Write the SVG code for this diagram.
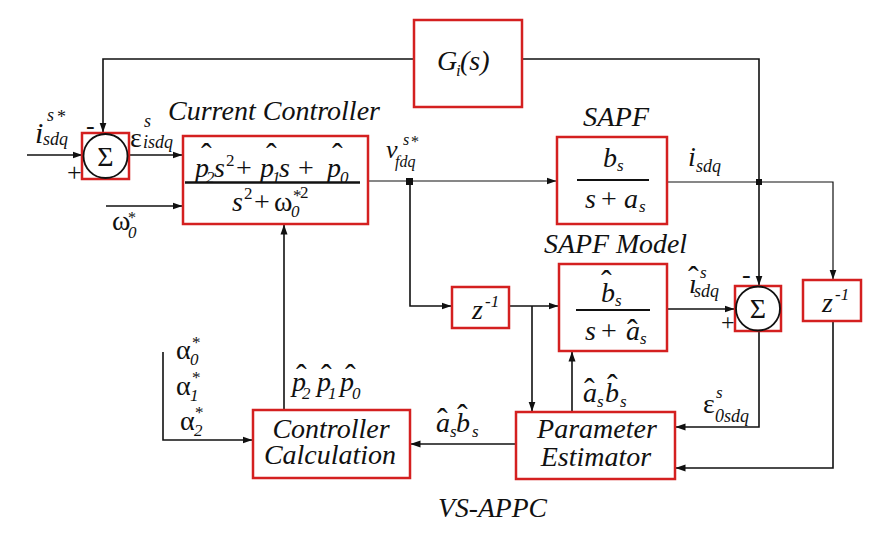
<svg xmlns="http://www.w3.org/2000/svg" width="871" height="534" viewBox="0 0 871 534">
<defs>
<marker id="ah" markerWidth="10" markerHeight="8" refX="9.5" refY="4" orient="auto" markerUnits="userSpaceOnUse"><path d="M0,0.5 L10,4 L0,7.5 z" fill="#111"/></marker>
</defs>
<rect width="871" height="534" fill="#fff"/>

<g id="connectors" fill="none" stroke="#111" stroke-width="1.6">
<path d="M759,182 V59 H522"/>
<path d="M414,59 H103 V132" marker-end="url(#ah)"/>
<path d="M759,182 V285" marker-end="url(#ah)"/>
<path d="M27,155 H82" marker-end="url(#ah)"/>
<path d="M129,155 H182" marker-end="url(#ah)"/>
<path d="M106,206 H182" marker-end="url(#ah)"/>
<path stroke-width="1.2" d="M368,181 H556" marker-end="url(#ah)"/>
<rect x="406" y="178" width="7" height="7" fill="#111" stroke="none"/>
<path d="M410,181 V306 H451" marker-end="url(#ah)"/>
<path d="M509,306 H558" marker-end="url(#ah)"/>
<path d="M532,306 V411" marker-end="url(#ah)"/>
<path d="M572,412 V352" marker-end="url(#ah)"/>
<path stroke-width="1.2" d="M667,182 H833 V279" marker-end="url(#ah)"/>
<rect x="756" y="179" width="6" height="6" fill="#111" stroke="none"/>
<path d="M667,309 H734" marker-end="url(#ah)"/>
<path d="M759,331 V427 H676" marker-end="url(#ah)"/>
<path d="M833,321 V468 H676" marker-end="url(#ah)"/>
<path d="M516,444 H411" marker-end="url(#ah)"/>
<path d="M284,410 V225" marker-end="url(#ah)"/>
<path d="M163,352 V440 H252" marker-end="url(#ah)"/>
</g>

<g id="sum1">
<rect x="82" y="133" width="47" height="46" fill="#fff" stroke="#d42020" stroke-width="2.5"/>
<circle cx="105.5" cy="156" r="22" fill="none" stroke="#111" stroke-width="1.8"/>
<text font-family="Liberation Serif" fill="#111" font-size="28" text-anchor="middle" x="105.5" y="165.5">Σ</text>
<text font-family="Liberation Serif" fill="#111" font-size="26" x="86" y="134">-</text>
<text font-family="Liberation Serif" fill="#111" font-size="26" x="67" y="181">+</text>
</g>

<g id="gi">
<rect x="414" y="20" width="108" height="87" fill="#fff" stroke="#d42020" stroke-width="2.5"/>
<text font-family="Liberation Serif" fill="#111" font-size="28" font-style="italic"><tspan x="437" y="70">G</tspan><tspan font-size="17" x="456" y="76">i</tspan><tspan x="460" y="70">(s)</tspan></text>
</g>

<g id="cc">
<text font-family="Liberation Serif" fill="#111" font-size="27" font-style="italic" x="168" y="120" textLength="212" lengthAdjust="spacingAndGlyphs">Current Controller</text>
<rect x="183" y="136" width="185" height="88" fill="#fff" stroke="#d42020" stroke-width="2.5"/>
<line x1="185" y1="182.5" x2="360" y2="182.5" stroke="#111" stroke-width="2.6"/>
<text font-family="Liberation Serif" fill="#111" font-size="28" font-style="italic"><tspan x="195" y="177">p</tspan><tspan font-style="normal" font-size="32" x="201" y="165">ˆ</tspan><tspan font-size="17" x="206" y="183">2</tspan><tspan x="214" y="177">s</tspan><tspan font-size="17" font-style="normal" x="226" y="166">2</tspan><tspan font-style="normal" x="236" y="177">+</tspan><tspan x="260" y="177">p</tspan><tspan font-style="normal" font-size="32" x="266" y="165">ˆ</tspan><tspan font-size="17" x="272" y="183">1</tspan><tspan x="279" y="177">s</tspan><tspan font-style="normal" x="298" y="177">+</tspan><tspan x="327" y="177">p</tspan><tspan font-style="normal" font-size="32" x="332" y="165">ˆ</tspan><tspan font-size="17" x="340" y="183">0</tspan></text>
<text font-family="Liberation Serif" fill="#111" font-size="28" font-style="italic"><tspan x="232" y="211">s</tspan><tspan font-size="17" font-style="normal" x="244" y="199">2</tspan><tspan font-style="normal" x="254" y="211">+</tspan><tspan font-style="normal" x="274" y="211">ω</tspan><tspan font-size="17" font-style="normal" x="293" y="201">*</tspan><tspan font-size="17" font-style="normal" x="300" y="198">2</tspan><tspan font-size="17" x="291" y="217">0</tspan></text>
</g>

<g id="sapf">
<text font-family="Liberation Serif" fill="#111" font-size="27" font-style="italic" x="583" y="126" textLength="66" lengthAdjust="spacingAndGlyphs">SAPF</text>
<rect x="557" y="137" width="110" height="87" fill="#fff" stroke="#d42020" stroke-width="2.5"/>
<line x1="577" y1="180" x2="649" y2="180" stroke="#111" stroke-width="2"/>
<text font-family="Liberation Serif" fill="#111" font-size="28" font-style="italic"><tspan x="603" y="167">b</tspan><tspan font-size="17" x="617" y="171">s</tspan></text>
<text font-family="Liberation Serif" fill="#111" font-size="28" font-style="italic"><tspan x="585" y="208">s</tspan><tspan font-style="normal" x="601" y="208">+</tspan><tspan x="624" y="208">a</tspan><tspan font-size="17" x="639" y="212">s</tspan></text>
</g>

<g id="sapfm">
<text font-family="Liberation Serif" fill="#111" font-size="27" font-style="italic" x="544" y="253" textLength="143" lengthAdjust="spacingAndGlyphs">SAPF Model</text>
<rect x="559" y="264" width="108" height="87" fill="#fff" stroke="#d42020" stroke-width="2.5"/>
<line x1="576" y1="310" x2="650" y2="310" stroke="#111" stroke-width="2"/>
<text font-family="Liberation Serif" fill="#111" font-size="28" font-style="italic"><tspan x="601" y="302">b</tspan><tspan font-style="normal" font-size="32" x="601" y="292">ˆ</tspan><tspan font-size="17" x="615" y="306">s</tspan></text>
<text font-family="Liberation Serif" fill="#111" font-size="28" font-style="italic"><tspan x="585" y="340">s</tspan><tspan font-style="normal" x="601" y="340">+</tspan><tspan x="626" y="340">a</tspan><tspan font-style="normal" font-size="32" x="627" y="341">ˆ</tspan><tspan font-size="17" x="640" y="344">s</tspan></text>
</g>

<g id="z1">
<rect x="452" y="287" width="57" height="41" fill="#fff" stroke="#d42020" stroke-width="2.5"/>
<text font-family="Liberation Serif" fill="#111" font-size="28" font-style="italic"><tspan x="472" y="319">z</tspan><tspan font-size="17" x="485" y="307">-1</tspan></text>
</g>

<g id="sum2">
<rect x="735" y="286" width="46" height="45" fill="#fff" stroke="#d42020" stroke-width="2.5"/>
<circle cx="758" cy="308.5" r="22" fill="none" stroke="#111" stroke-width="1.8"/>
<text font-family="Liberation Serif" fill="#111" font-size="28" text-anchor="middle" x="758" y="318">Σ</text>
<text font-family="Liberation Serif" fill="#111" font-size="26" x="742" y="283">-</text>
<text font-family="Liberation Serif" fill="#111" font-size="24" x="721" y="330">+</text>
</g>

<g id="z2">
<rect x="803" y="280" width="58" height="41" fill="#fff" stroke="#d42020" stroke-width="2.5"/>
<text font-family="Liberation Serif" fill="#111" font-size="28" font-style="italic"><tspan x="822" y="312">z</tspan><tspan font-size="17" x="835" y="300">-1</tspan></text>
</g>

<g id="ccalc">
<rect x="253" y="410" width="157" height="68" fill="#fff" stroke="#d42020" stroke-width="2.5"/>
<text font-family="Liberation Serif" fill="#111" font-size="28" font-style="italic" text-anchor="middle" x="331" y="438">Controller</text>
<text font-family="Liberation Serif" fill="#111" font-size="28" font-style="italic" text-anchor="middle" x="330" y="464">Calculation</text>
</g>

<g id="pe">
<rect x="516" y="412" width="159" height="67" fill="#fff" stroke="#d42020" stroke-width="2.5"/>
<text font-family="Liberation Serif" fill="#111" font-size="28" font-style="italic" text-anchor="middle" x="597" y="438">Parameter</text>
<text font-family="Liberation Serif" fill="#111" font-size="28" font-style="italic" text-anchor="middle" x="596" y="466">Estimator</text>
</g>

<g id="labels">
<text font-family="Liberation Serif" fill="#111" font-size="28" font-style="italic"><tspan x="35" y="143" font-size="30">i</tspan><tspan font-size="18" x="47" y="121">s</tspan><tspan font-size="18" font-style="normal" x="57" y="123">*</tspan><tspan font-size="18" x="43" y="145">sdq</tspan></text>
<text font-family="Liberation Serif" fill="#111" font-size="28" font-style="italic"><tspan font-style="normal" x="130" y="147">ε</tspan><tspan font-size="18" x="144" y="127">s</tspan><tspan font-size="18" x="143" y="148">isdq</tspan></text>
<text font-family="Liberation Serif" fill="#111" font-size="28" font-style="italic"><tspan font-style="normal" x="112" y="230">ω</tspan><tspan font-size="16" font-style="normal" x="128" y="223">*</tspan><tspan font-size="17" x="128" y="238">0</tspan></text>
<text font-family="Liberation Serif" fill="#111" font-size="28" font-style="italic"><tspan x="386" y="158" font-size="26">v</tspan><tspan font-size="16" x="403" y="145">s</tspan><tspan font-size="16" font-style="normal" x="411" y="147">*</tspan><tspan font-size="16" x="395" y="167">fdq</tspan></text>
<text font-family="Liberation Serif" fill="#111" font-size="28" font-style="italic"><tspan x="688" y="166">i</tspan><tspan font-size="18" x="696" y="172">sdq</tspan></text>
<text font-family="Liberation Serif" fill="#111" font-size="28" font-style="italic"><tspan x="689" y="293">ı</tspan><tspan font-style="normal" font-size="32" x="688" y="288">ˆ</tspan><tspan font-size="17" x="700" y="278">s</tspan><tspan font-size="18" x="694" y="297">sdq</tspan></text>
<text font-family="Liberation Serif" fill="#111" font-size="28" font-style="italic"><tspan font-style="normal" x="703" y="413">ε</tspan><tspan font-size="17" x="716" y="398">s</tspan><tspan font-size="18" x="715" y="422">0sdq</tspan></text>
<text font-family="Liberation Serif" fill="#111" font-size="28" font-style="italic"><tspan x="583" y="402">a</tspan><tspan font-style="normal" font-size="32" x="584" y="400">ˆ</tspan><tspan font-size="17" x="597" y="407">s</tspan><tspan x="605" y="402">b</tspan><tspan font-style="normal" font-size="32" x="607" y="396">ˆ</tspan><tspan font-size="17" x="620" y="407">s</tspan></text>
<text font-family="Liberation Serif" fill="#111" font-size="28" font-style="italic"><tspan x="436" y="432">a</tspan><tspan font-style="normal" font-size="32" x="437" y="430">ˆ</tspan><tspan font-size="17" x="450" y="437">s</tspan><tspan x="456" y="432">b</tspan><tspan font-style="normal" font-size="32" x="457" y="426">ˆ</tspan><tspan font-size="17" x="472" y="437">s</tspan></text>
<text font-family="Liberation Serif" fill="#111" font-size="28" font-style="italic"><tspan x="292" y="391">p</tspan><tspan font-style="normal" font-size="32" x="296" y="386">ˆ</tspan><tspan font-size="17" x="302" y="399">2</tspan><tspan x="317" y="391">p</tspan><tspan font-style="normal" font-size="32" x="321" y="386">ˆ</tspan><tspan font-size="17" x="328" y="399">1</tspan><tspan x="340" y="391">p</tspan><tspan font-style="normal" font-size="32" x="345" y="386">ˆ</tspan><tspan font-size="17" x="352" y="399">0</tspan></text>
<text font-family="Liberation Serif" fill="#111" font-size="28" font-style="italic"><tspan font-style="normal" x="176" y="359">α</tspan><tspan font-size="17" font-style="normal" x="192" y="348">*</tspan><tspan font-size="17" x="190" y="365">0</tspan></text>
<text font-family="Liberation Serif" fill="#111" font-size="28" font-style="italic"><tspan font-style="normal" x="176" y="395">α</tspan><tspan font-size="17" font-style="normal" x="192" y="383">*</tspan><tspan font-size="17" x="190" y="401">1</tspan></text>
<text font-family="Liberation Serif" fill="#111" font-size="28" font-style="italic"><tspan font-style="normal" x="180" y="430">α</tspan><tspan font-size="17" font-style="normal" x="195" y="418">*</tspan><tspan font-size="17" x="194" y="436">2</tspan></text>
<text font-family="Liberation Serif" fill="#111" font-size="27" font-style="italic" x="438" y="517" textLength="109" lengthAdjust="spacingAndGlyphs">VS-APPC</text>
</g>
</svg>
